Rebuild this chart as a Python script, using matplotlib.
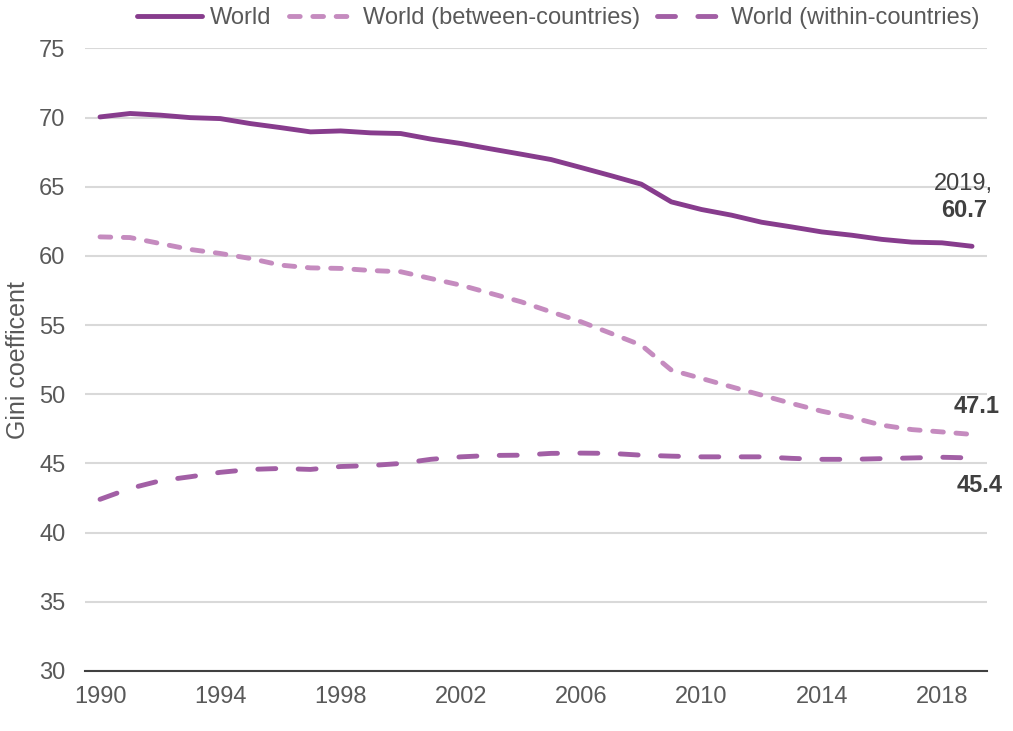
import matplotlib
matplotlib.use("Agg")
import matplotlib.pyplot as plt

# dados
years = list(range(1990, 2020))
world = [70.05, 70.3, 70.18, 70.0, 69.93, 69.57, 69.28, 68.97, 69.04, 68.9,
         68.85, 68.45, 68.13, 67.74, 67.36, 66.97, 66.39, 65.8, 65.19, 63.91,
         63.36, 62.95, 62.44, 62.1, 61.74, 61.5, 61.2, 61.0, 60.95, 60.7]
between = [61.38, 61.33, 60.9, 60.47, 60.18, 59.82, 59.34, 59.14, 59.1, 58.95,
           58.86, 58.37, 57.89, 57.29, 56.69, 55.96, 55.24, 54.4, 53.55, 51.75,
           51.15, 50.54, 49.94, 49.34, 48.78, 48.33, 47.77, 47.45, 47.28, 47.1]
within = [42.41, 43.2, 43.75, 44.04, 44.36, 44.57, 44.64, 44.57, 44.78, 44.85,
          45.0, 45.3, 45.48, 45.58, 45.6, 45.73, 45.75, 45.73, 45.6, 45.53,
          45.48, 45.48, 45.48, 45.37, 45.3, 45.3, 45.35, 45.4, 45.45, 45.4]
xticks = [1990, 1994, 1998, 2002, 2006, 2010, 2014, 2018]
yticks = [30, 35, 40, 45, 50, 55, 60, 65, 70, 75]

plt.rcParams['font.family'] = ['Liberation Sans', 'DejaVu Sans']
grey = '#595959'
dark = '#404040'
fs = 17

fig = plt.figure(figsize=(10.13, 7.31), dpi=100)
ax = fig.add_axes([0.0839, 0.0821, 0.8905, 0.8516])

lw = 3.5
ax.plot(years, world, color='#873C8D', lw=lw, solid_capstyle='round',
        label='World', zorder=3)
ax.plot(years, between, color='#C58BBF', lw=lw, dash_capstyle='round',
        dashes=(2.2, 2.6), label='World (between-countries)', zorder=3)
ax.plot(years, within, color='#A25FA5', lw=lw, dash_capstyle='round',
        dashes=(3.7, 4.6), label='World (within-countries)', zorder=3)

ax.set_xlim(1989.5, 2019.5)
ax.set_ylim(30, 75)
ax.set_xticks(xticks)
ax.set_yticks(yticks)
ax.tick_params(axis='both', length=0, labelsize=fs, labelcolor=grey)
ax.tick_params(axis='y', pad=14)
ax.tick_params(axis='x', pad=11)
ax.grid(axis='y', color='#D9D9D9', lw=1.5)
ax.set_axisbelow(True)
for s in ['top', 'right', 'left']:
    ax.spines[s].set_visible(False)
ax.spines['bottom'].set_color(dark)
ax.spines['bottom'].set_linewidth(1.5)
ax.spines['bottom'].set_zorder(4)

ax.set_ylabel('Gini coefficent', fontsize=fs + 1, color=grey)
ax.yaxis.set_label_coords(-0.061, 0.5)

# rótulos do último ano
ax.annotate('2019,', xy=(years[-1], world[-1]), xytext=(-9, 62),
            textcoords='offset pixels', ha='center', va='center',
            fontsize=fs, color=dark)
ax.annotate(f'{world[-1]:.1f}', xy=(years[-1], world[-1]), xytext=(-8, 36),
            textcoords='offset pixels', ha='center', va='center',
            fontsize=fs, color=dark, fontweight='bold')
ax.annotate(f'{between[-1]:.1f}', xy=(years[-1], between[-1]), xytext=(5, 28),
            textcoords='offset pixels', ha='center', va='center',
            fontsize=fs, color=dark, fontweight='bold')
ax.annotate(f'{within[-1]:.1f}', xy=(years[-1], within[-1]), xytext=(8, -28),
            textcoords='offset pixels', ha='center', va='center',
            fontsize=fs, color=dark, fontweight='bold')

leg = fig.legend(loc='center', bbox_to_anchor=(558 / 1013, 1 - 18 / 731),
                 ncol=3, frameon=False, fontsize=fs, handlelength=2.75,
                 handletextpad=0.35, columnspacing=0.75)
for t in leg.get_texts():
    t.set_color(grey)

plt.savefig('out.png', dpi=100)
